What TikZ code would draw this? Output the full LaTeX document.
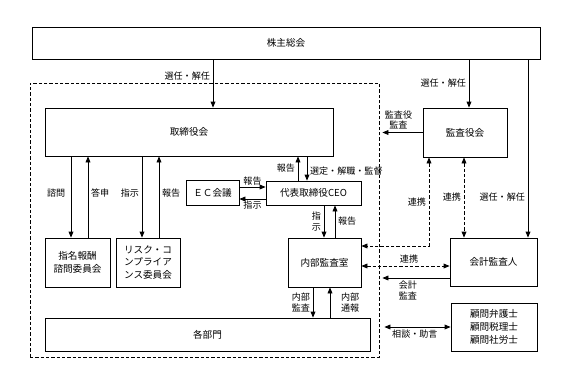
\documentclass[tikz,border=0pt]{standalone}
\usepackage{fontspec}
\setmainfont{Noto Sans CJK JP}
\usepackage{tikz}
\usetikzlibrary{positioning,arrows.meta,calc}
\tikzset{
  box/.style={draw=black, line width=0.6pt, align=center, inner sep=1pt,
    font=\fontsize{7.2}{9.5}\selectfont},
  frame/.style={draw=black, line width=0.6pt, dash pattern=on 2.5pt off 1.5pt},
  arr/.style={->, line width=0.6pt},
  darr/.style={<->, line width=0.6pt},
  link/.style={<->, line width=0.6pt, dash pattern=on 2.5pt off 1.5pt},
  lbl/.style={font=\fontsize{6.8}{8}\selectfont, align=center, inner sep=2pt}
}

\begin{document}
\begin{tikzpicture}[x=0.75pt, y=-0.75pt, >={Triangle[length=4.5pt,width=3.6pt]}]
    \useasboundingbox (0,0) rectangle (577,382);

    \node[frame, minimum width=261.75pt, minimum height=205.5pt] (comp) at (204.5,220) {};

    \node[box, minimum width=381pt,    minimum height=24pt]    (kabu)   at (286,43)      {株主総会};
    \node[box, minimum width=216pt,    minimum height=36pt]    (tori)   at (189,132)     {取締役会};
    \node[box, minimum width=63pt,     minimum height=36.75pt] (kansa)  at (465,132.5)   {監査役会};
    \node[box, minimum width=48.75pt,  minimum height=36.75pt] (shimei) at (77.5,262.5)  {指名報酬\\諮問委員会};
    \node[box, minimum width=48pt,     minimum height=36.75pt] (risk)   at (148,262.5)   {リスク・コ\\ンプライア\\ンス委員会};
    \node[box, minimum width=39.75pt,  minimum height=18.75pt] (ec)     at (212.5,192.5) {ＥＣ会議};
    \node[box, minimum width=71.25pt,  minimum height=18pt]    (ceo)    at (313.5,193)   {代表取締役CEO};
    \node[box, minimum width=54.75pt,  minimum height=36.75pt] (naibu)  at (324.5,262.5) {内部監査室};
    \node[box, minimum width=65.25pt,  minimum height=36pt]    (kaikei) at (493.5,262)   {会計監査人};
    \node[box, minimum width=243.75pt, minimum height=24.75pt] (bumon)  at (207.5,334.5) {各部門};
    \node[box, minimum width=64.5pt,   minimum height=36pt]    (komon)  at (494,327)     {顧問弁護士\\顧問税理士\\顧問社労士};

    % where the connectors run
    \coordinate (selA) at (213,0);  \coordinate (selB) at (469,0);  \coordinate (selC) at (528,0);
    \coordinate (ask)  at (71,0);   \coordinate (ans)  at (88,0);
    \coordinate (insR) at (142,0);  \coordinate (repR) at (159,0);
    \coordinate (repC) at (298,0);  \coordinate (supC) at (307,0);
    \coordinate (insN) at (324,0);  \coordinate (repN) at (335,0);
    \coordinate (audB) at (313,0);  \coordinate (whsB) at (330,0);
    \coordinate (lnkN) at (429,0);  \coordinate (lnkK) at (464,0);
    \coordinate (repE) at (0,187);  \coordinate (insE) at (0,199);
    \coordinate (lnkA) at (0,246);  \coordinate (lnkB) at (0,266);
    \coordinate (audK) at (0,278);  \coordinate (advc) at (0,327);

    \draw[arr] (kabu.south -| selA) -- node[lbl, left, pos=0.35] {選任・解任} (tori.north -| selA);
    \draw[arr] (kabu.south -| selB) -- node[lbl, left] {選任・解任} (kansa.north -| selB);
    \draw[arr] (kabu.south -| selC) -- node[lbl, left, pos=0.77] {選任・解任} (kaikei.north -| selC);

    \draw[arr] (tori.south -| ask)  -- node[lbl, left, pos=0.45, xshift=-2pt] {諮問} (shimei.north -| ask);
    \draw[arr] (shimei.north -| ans) -- node[lbl, right, pos=0.55] {答申} (tori.south -| ans);
    \draw[arr] (tori.south -| insR) -- node[lbl, left, pos=0.45] {指示} (risk.north -| insR);
    \draw[arr] (risk.north -| repR) -- node[lbl, right, pos=0.55] {報告} (tori.south -| repR);

    \draw[arr] (ec.east |- repE) -- node[lbl, above, inner sep=1pt] {報告} (ceo.west |- repE);
    \draw[arr] (ceo.west |- insE) -- node[lbl, below, inner sep=1pt] {指示} (ec.east |- insE);

    \draw[arr] (ceo.north -| repC) -- node[lbl, left] {報告} (tori.south -| repC);
    \draw[arr] (tori.south -| supC) -- node[lbl, right, pos=0.6] {選定・解職・監督} (ceo.north -| supC);
    \draw[arr] (ceo.south -| insN) -- node[lbl, left] {指\\示} (naibu.north -| insN);
    \draw[arr] (naibu.north -| repN) -- node[lbl, right] {報告} (ceo.south -| repN);
    \draw[arr] (naibu.south -| audB) -- node[lbl, left] {内部\\監査} (bumon.north -| audB);
    \draw[arr] (bumon.north -| whsB) -- node[lbl, right, xshift=6pt] {内部\\通報} (naibu.south -| whsB);

    \draw[arr] (kansa.west) -- node[lbl, above, pos=0.6] {監査役\\監査} ($(comp.east |- kansa.west)+(3,0)$);
    \draw[link] (kansa.south -| lnkN) |- node[lbl, left, pos=0.25] {連携} (naibu.east |- lnkA);
    \draw[link] (kansa.south -| lnkK) -- node[lbl, left] {連携} (kaikei.north -| lnkK);
    \draw[link] (naibu.east |- lnkB) -- node[lbl, above, pos=0.54] {連携} (kaikei.west |- lnkB);
    \draw[arr] (kaikei.west |- audK) -- node[lbl, below, pos=0.62] {会計\\監査} ($(comp.east |- audK)+(3,0)$);
    \draw[darr] (komon.west |- advc) -- node[lbl, below, pos=0.54] {相談・助言} ($(comp.east |- advc)+(5,0)$);

  \end{tikzpicture}
\end{document}
